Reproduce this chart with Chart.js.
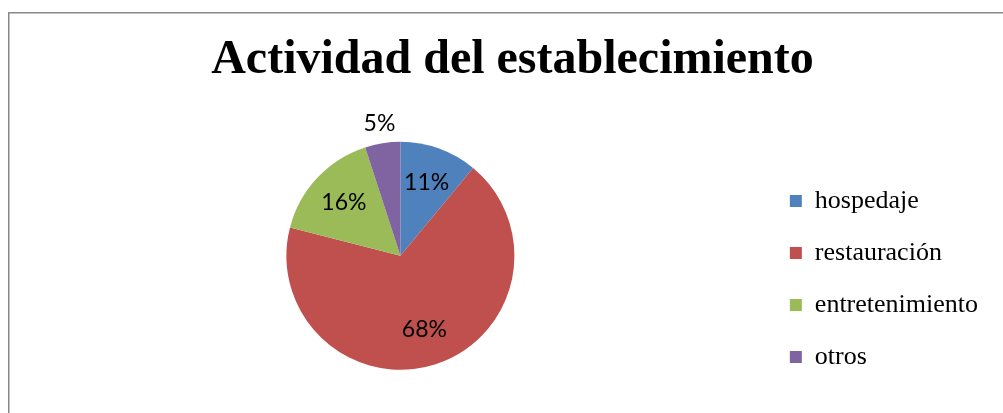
<!DOCTYPE html>
<html>
<head>
<meta charset="utf-8">
<script src="https://cdn.jsdelivr.net/npm/chart.js@4"></script>
<style>
    body { margin: 0; background: #fff; }
    canvas { display: block; }
</style>
</head>
<body>
<canvas id="chart" width="1003" height="413"></canvas>
<script>
// data
var categories = ['hospedaje', 'restauración', 'entretenimiento', 'otros']
var percents = [11, 68, 16, 5]
var colors = ['#4F81BD', '#C0504D', '#9BBB59', '#8064A2']
var titleText = 'Actividad del establecimiento'

// gray frame around the chart (cut off at right and bottom like the original)
var framePlugin = {
    id: 'frame',
    beforeDraw: function(chart) {
        var ctx = chart.ctx
        ctx.save()
        ctx.fillStyle = '#ffffff'
        ctx.fillRect(0, 0, chart.width, chart.height)
        ctx.strokeStyle = '#888888'
        ctx.lineWidth = 1.5
        ctx.strokeRect(8.75, 12.75, chart.width + 50, chart.height + 50)
        ctx.restore()
    }
}

// percentage labels, inside the slices or just outside for small ones
var pctLabels = {
    id: 'pctLabels',
    afterDatasetsDraw: function(chart) {
        var ctx = chart.ctx
        var meta = chart.getDatasetMeta(0)
        ctx.save()
        ctx.font = '23px Lato'
        ctx.fillStyle = '#000000'
        ctx.textAlign = 'center'
        ctx.textBaseline = 'middle'
        meta.data.forEach(function(arc, i) {
            var p = arc.getProps(['x', 'y', 'startAngle', 'endAngle', 'outerRadius'], true)
            var mid = (p.startAngle + p.endAngle) / 2
            var r = percents[i] < 8 ? p.outerRadius + 20 : p.outerRadius * 0.68
            ctx.fillText(percents[i] + '%', p.x + Math.cos(mid) * r, p.y + Math.sin(mid) * r)
        })
        ctx.restore()
    }
}

new Chart(document.getElementById('chart'), {
    type: 'pie',
    data: {
        labels: categories,
        datasets: [{
            data: percents,
            backgroundColor: colors,
            borderWidth: 0,
            radius: 114,
        }],
    },
    options: {
        responsive: false,
        animation: false,
        layout: {
            padding: {left: 37, right: 15, top: 0, bottom: 17},
        },
        plugins: {
            title: {
                display: true,
                text: titleText,
                color: '#000000',
                font: {family: '"Liberation Serif", "Times New Roman", serif', size: 48, weight: 'bold'},
                padding: {top: 32, bottom: 26},
            },
            legend: {
                position: 'right',
                align: 'end',
                fullSize: false,
                labels: {
                    boxWidth: 12,
                    boxHeight: 12,
                    padding: 26,
                    color: '#000000',
                    font: {family: '"Liberation Serif", "Times New Roman", serif', size: 26},
                },
            },
            tooltip: {enabled: false},
        },
    },
    plugins: [framePlugin, pctLabels],
})
</script>
</body>
</html>
